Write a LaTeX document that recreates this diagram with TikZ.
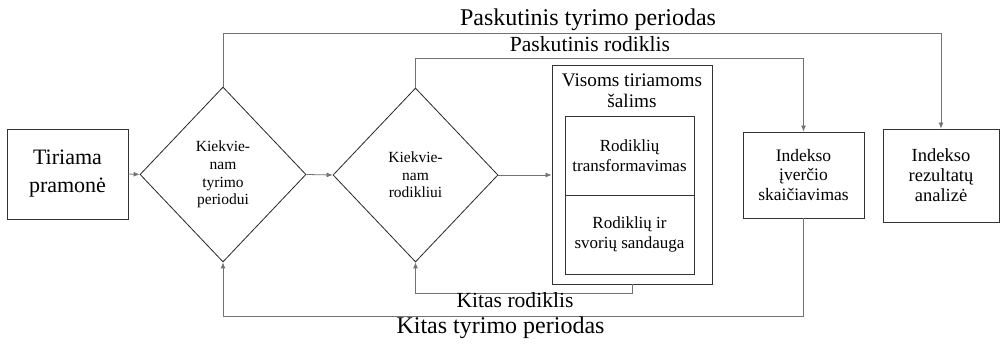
\documentclass[tikz,border=0pt]{standalone}
\usepackage{fontspec}
\IfFontExistsTF{LiberationSerif-Regular.ttf}
  {\setmainfont{LiberationSerif}[Extension=.ttf,UprightFont=*-Regular,BoldFont=*-Bold,ItalicFont=*-Italic,BoldItalicFont=*-BoldItalic]}
  {\setmainfont{Liberation Serif}}
\usetikzlibrary{shapes.geometric,arrows.meta,calc}
\newcommand{\fsz}[2]{\fontsize{#1}{#2}\selectfont}
\begin{document}
\begin{tikzpicture}[x=1pt,y=-1pt,
  box/.style={draw=black!80,line width=0.9pt,inner sep=0pt,align=center},
  dia/.style={diamond,draw=black!85,line width=0.8pt,inner sep=0pt,align=center,
    minimum width=166pt,minimum height=175pt,font=\fsz{15.5}{17.7}},
  conn/.style={draw=black!55,line width=0.8pt},
  arr/.style={conn,-{Latex[length=6pt,width=5pt]}},
  lbl/.style={inner sep=0pt,anchor=base}
]
\useasboundingbox (0,0) rectangle (1003,344);

% process blocks
\node[box,minimum width=121pt,minimum height=90pt,font=\fsz{22}{28}] (tp) at (67.5,174) {Tiriama\\pramonė};
\node[dia] (d1) at (223,174.5) {Kiekvie-\\nam\\tyrimo\\periodui};
\node[dia,minimum width=165pt,minimum height=174pt] (d2) at (415.5,175) {Kiekvie-\\nam\\rodikliui};

% group over all countries
\node[box,minimum width=160pt,minimum height=219pt] (all) at (632,174.5) {};
\node[lbl,font=\fsz{19.2}{21}] (allt1) at (632,87) {Visoms tiriamoms};
\node[lbl,font=\fsz{19.2}{21}] (allt2) at (632,108) {šalims};
\node[box,minimum width=129pt,minimum height=79pt,font=\fsz{17}{20}] (rt) at (629.5,155.5) {Rodiklių\\transformavimas};
\node[box,minimum width=129pt,minimum height=79pt,font=\fsz{17}{20.5}] (rs) at (629.5,234.5) {Rodiklių ir\\svorių sandauga};

\node[box,minimum width=121pt,minimum height=86pt,font=\fsz{17.5}{19.7}] (ie) at (803.5,175) {Indekso\\įverčio\\skaičiavimas};
\node[box,minimum width=116pt,minimum height=93pt,font=\fsz{18.5}{20}] (ra) at (941,175.5) {Indekso\\rezultatų\\analizė};

% levels of the loop lines
\coordinate (ptp) at (0,33);
\coordinate (prl) at (0,58);
\coordinate (krl) at (0,293);
\coordinate (ktp) at (0,316);

% forward flow
\draw[arr] (tp.east) -- (d1.west);
\draw[arr] (d1.east) -- (d2.west);
\draw[arr] (d2.east) -- (d2.east -| all.west);

% exits of the loops
\draw[arr] (d1.north) |- (ptp -| ra.north) -- (ra.north);
\draw[arr] (d2.north) |- (prl -| ie.north) -- (ie.north);

% returns of the loops
\draw[arr] (all.south) -- (all.south |- krl) -| (d2.south);
\draw[arr] (ie.south) |- (ktp -| d1.south) -- (d1.south);

% loop labels
\node[lbl,font=\fsz{24}{24}] (lptp) at (588,26) {Paskutinis tyrimo periodas};
\node[lbl,font=\fsz{21.6}{22}] (lprl) at (590,52) {Paskutinis rodiklis};
\node[lbl,font=\fsz{21.6}{22}] (lkrl) at (515,308) {Kitas rodiklis};
\node[lbl,font=\fsz{24}{24}] (lktp) at (500.5,333) {Kitas tyrimo periodas};
\end{tikzpicture}
\end{document}
